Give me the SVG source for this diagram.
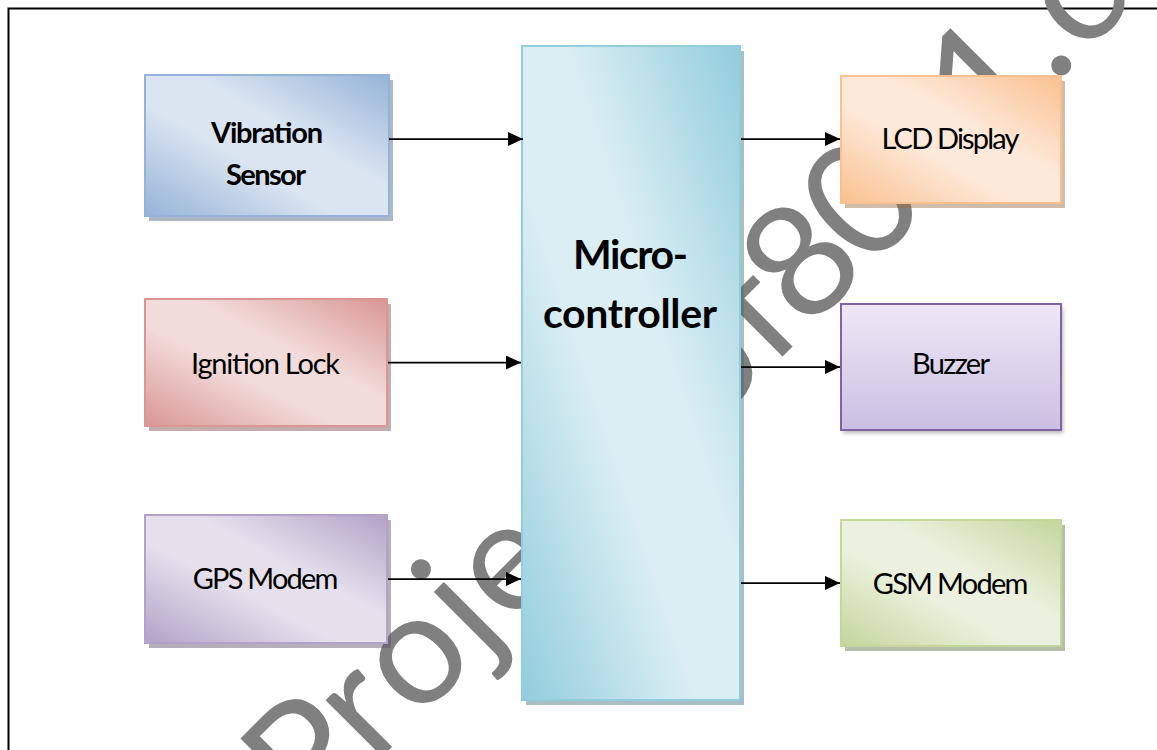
<svg xmlns="http://www.w3.org/2000/svg" width="1157" height="750" viewBox="0 0 1157 750">
<defs>
  <linearGradient id="gBlue" x1="1" y1="0" x2="0" y2="1">
    <stop offset="0" stop-color="#95b3d7"/><stop offset="0.4" stop-color="#dbe5f1"/><stop offset="0.6" stop-color="#dbe5f1"/><stop offset="1" stop-color="#95b3d7"/>
  </linearGradient>
  <linearGradient id="gPink" x1="1" y1="0" x2="0" y2="1">
    <stop offset="0" stop-color="#d99694"/><stop offset="0.4" stop-color="#f2dcdb"/><stop offset="0.6" stop-color="#f2dcdb"/><stop offset="1" stop-color="#d99694"/>
  </linearGradient>
  <linearGradient id="gPurple" x1="1" y1="0" x2="0" y2="1">
    <stop offset="0" stop-color="#b2a2c7"/><stop offset="0.4" stop-color="#e5e0ec"/><stop offset="0.6" stop-color="#e5e0ec"/><stop offset="1" stop-color="#b2a2c7"/>
  </linearGradient>
  <linearGradient id="gOrange" x1="1" y1="0" x2="0" y2="1">
    <stop offset="0" stop-color="#fac090"/><stop offset="0.4" stop-color="#fde9d9"/><stop offset="0.6" stop-color="#fde9d9"/><stop offset="1" stop-color="#fac090"/>
  </linearGradient>
  <linearGradient id="gGreen" x1="1" y1="0" x2="0" y2="1">
    <stop offset="0" stop-color="#c3d69b"/><stop offset="0.4" stop-color="#ebf1de"/><stop offset="0.6" stop-color="#ebf1de"/><stop offset="1" stop-color="#c3d69b"/>
  </linearGradient>
  <linearGradient id="gCyan" x1="1" y1="0" x2="0" y2="1">
    <stop offset="0" stop-color="#92cddc"/><stop offset="0.4" stop-color="#dbeef4"/><stop offset="0.6" stop-color="#dbeef4"/><stop offset="1" stop-color="#92cddc"/>
  </linearGradient>
  <linearGradient id="gBuzz" x1="0" y1="0" x2="0" y2="1">
    <stop offset="0" stop-color="#eee8f6"/><stop offset="1" stop-color="#cbbfe2"/>
  </linearGradient>
  <filter id="soft" x="-10%" y="-10%" width="120%" height="130%">
    <feGaussianBlur stdDeviation="2"/>
  </filter>
  <marker id="arr" viewBox="0 0 15 14" markerWidth="15" markerHeight="14" refX="15" refY="7" markerUnits="userSpaceOnUse" orient="auto">
    <path d="M0,0 L15,7 L0,14 Z" fill="#000"/>
  </marker>
</defs>
<style>
  .lbl{font-family:Lato,"Liberation Sans",sans-serif;font-size:29px;fill:#000;text-anchor:middle}
  .b{font-weight:bold}
  .big{font-size:41px}
  .conn{stroke:#000;stroke-width:1.75;fill:none;marker-end:url(#arr)}
  .wm{font-family:Lato,"Liberation Sans",sans-serif;font-size:158px;fill:#808080}
  .box{stroke-width:2}
  .sh{opacity:0.45}
</style>

<rect width="1157" height="750" fill="#ffffff"/>
<path d="M8.5,750 V8.5 H1157" fill="none" stroke="#000" stroke-width="2"/>

<g id="watermark" transform="translate(-8,-3) rotate(-45 321 829)">
  <text class="wm" y="829" x="317 407.6 468.2 560.1 600.8 683.8 756 812.3 879.6 968.8 1019.2 1105.4 1191.5 1277.7 1369.4 1408.2 1480.6 1571.5">Projectsof8051.com</text>
</g>

<g id="vibration-sensor">
  <rect class="sh" x="149" y="80" width="244" height="141" fill="#4a6180"/>
  <rect class="box" x="145" y="75" width="244" height="141" fill="url(#gBlue)" stroke="#95b3d7"/>
  <text class="lbl b" x="267" y="143" textLength="112" lengthAdjust="spacing">Vibration</text>
  <text class="lbl b" x="266" y="185" textLength="80" lengthAdjust="spacing">Sensor</text>
</g>

<g id="ignition-lock">
  <rect class="sh" x="149" y="304" width="242" height="127" fill="#7a4a49"/>
  <rect class="box" x="145" y="299" width="242" height="127" fill="url(#gPink)" stroke="#d99694"/>
  <text class="lbl" x="265.5" y="374" textLength="149" lengthAdjust="spacing">Ignition Lock</text>
</g>

<g id="gps-modem">
  <rect class="sh" x="149" y="520" width="242" height="128" fill="#5a4d6b"/>
  <rect class="box" x="145" y="515" width="242" height="128" fill="url(#gPurple)" stroke="#b2a2c7"/>
  <text class="lbl" x="265.5" y="589" textLength="145.6" lengthAdjust="spacing">GPS Modem</text>
</g>

<g id="microcontroller">
  <rect class="sh" x="526" y="51" width="218" height="654" fill="#3f6f7c"/>
  <rect class="box" x="522" y="46" width="218" height="654" fill="url(#gCyan)" stroke="#92cddc"/>
  <text class="lbl b big" x="630.5" y="269" textLength="115" lengthAdjust="spacing">Micro-</text>
  <text class="lbl b big" x="630" y="328" textLength="174" lengthAdjust="spacing">controller</text>
</g>

<g id="lcd-display">
  <rect class="sh" x="845" y="81" width="220" height="127" fill="#9a6a40"/>
  <rect class="box" x="841" y="76" width="220" height="127" fill="url(#gOrange)" stroke="#fac090"/>
  <text class="lbl" x="950.5" y="149" textLength="138" lengthAdjust="spacing">LCD Display</text>
</g>

<g id="buzzer">
  <rect x="843" y="307" width="220" height="126" fill="#000" opacity="0.3" filter="url(#soft)"/>
  <rect class="box" x="841" y="304" width="220" height="126" fill="url(#gBuzz)" stroke="#8064a2"/>
  <text class="lbl" x="951" y="374" textLength="78" lengthAdjust="spacing">Buzzer</text>
</g>

<g id="gsm-modem">
  <rect class="sh" x="845" y="525" width="220" height="126" fill="#5f6e42"/>
  <rect class="box" x="841" y="520" width="220" height="126" fill="url(#gGreen)" stroke="#c3d69b"/>
  <text class="lbl" x="950.5" y="594" textLength="155.6" lengthAdjust="spacing">GSM Modem</text>
</g>

<g id="connectors">
  <path class="conn" d="M389,139 H523"/>
  <path class="conn" d="M388,362.5 H521"/>
  <path class="conn" d="M388,579 H521"/>
  <path class="conn" d="M741,139 H840"/>
  <path class="conn" d="M741,367 H840"/>
  <path class="conn" d="M741,583 H840"/>
</g>
</svg>
